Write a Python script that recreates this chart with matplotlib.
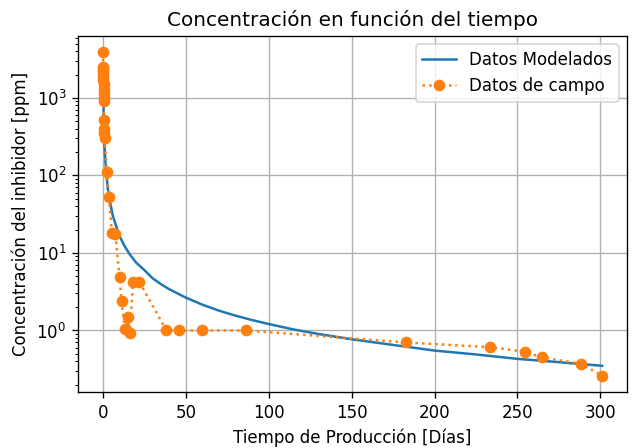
import matplotlib
matplotlib.use('Agg')
import matplotlib.pyplot as plt

# Concentración de inhibidor: modelo vs. datos de campo
t_modelo = [0.2, 0.4, 0.7, 1.0, 1.5, 2, 3, 4, 5, 6, 8, 10, 13, 16, 20, 25,
            30, 35, 40, 50, 60, 70, 80, 90, 100, 115, 130, 150, 175, 200,
            225, 250, 275, 301]
c_modelo = [1400, 650, 350, 230, 150, 105, 66, 48, 38, 30, 22, 16.5, 12.3,
            9.7, 7.5, 6.0, 4.7, 3.95, 3.4, 2.65, 2.15, 1.8, 1.55, 1.36, 1.21,
            1.03, 0.9, 0.77, 0.65, 0.55, 0.49, 0.43, 0.39, 0.35]

t_campo = [0.0, 0.1, 0.15, 0.2, 0.25, 0.3, 0.35, 0.4, 0.45, 0.5, 0.55, 0.6,
           0.7, 0.8, 1.0, 2.4, 3.6, 5.4, 7.5, 10, 11.2, 13.2, 15.2, 16.2,
           18.2, 22, 38.3, 45.7, 60, 86, 182.5, 233.5, 254.5, 264.5, 288.5, 301]
c_campo = [3900, 2500, 2300, 2100, 1900, 1700, 1500, 1300, 1150, 1000, 920, 520,
           400, 350, 300, 110, 53, 18, 17.3, 4.9, 2.4, 1.04, 1.47, 0.94,
           4.2, 4.2, 1.0, 1.0, 1.0, 1.0, 0.70, 0.61, 0.53, 0.45, 0.37, 0.26]

fig, ax = plt.subplots(figsize=(634 / 120, 448 / 120), dpi=120)
fig.subplots_adjust(left=0.123, right=0.989, top=0.92, bottom=0.125)

ax.plot(t_modelo, c_modelo, color='C0', label='Datos Modelados')
ax.plot(t_campo, c_campo, ':', color='C1', marker='o', label='Datos de campo')

ax.set_yscale('log')
ax.set_title('Concentración en función del tiempo')
ax.set_xlabel('Tiempo de Producción [Días]')
ax.set_ylabel('Concentración del inhibidor [ppm]')
ax.grid(True)
ax.legend(loc='upper right')

fig.savefig('out.png', dpi=120)
